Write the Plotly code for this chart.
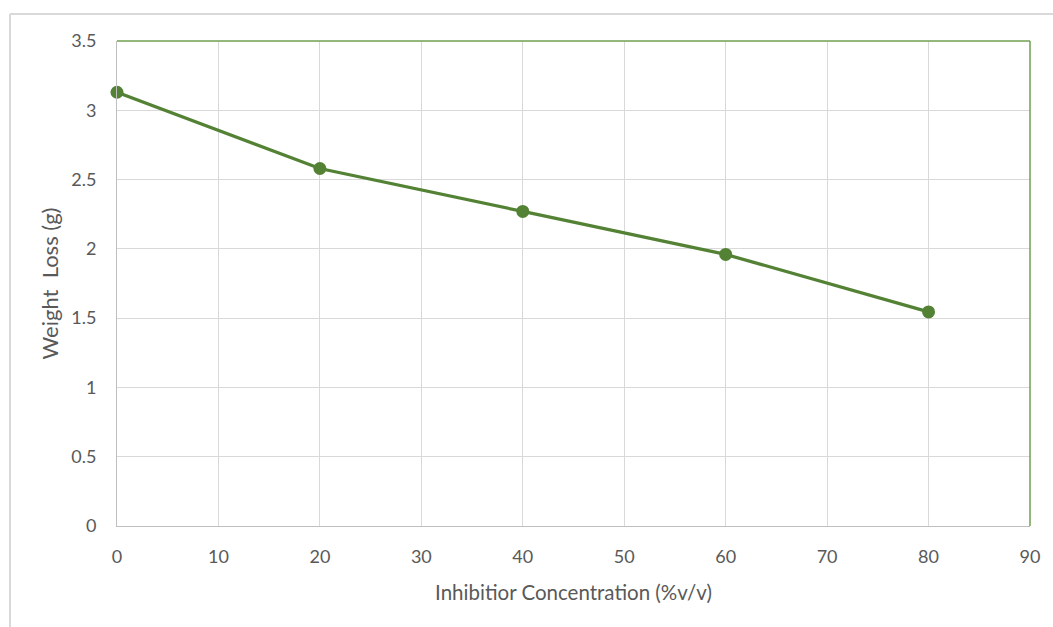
import plotly.graph_objects as go

# Weight loss vs. inhibitor concentration
concentration = [0, 20, 40, 60, 80]
weight_loss = [3.13, 2.58, 2.27, 1.96, 1.545]

x_ticks = [0, 10, 20, 30, 40, 50, 60, 70, 80, 90]
y_ticks = [0, 0.5, 1, 1.5, 2, 2.5, 3, 3.5]
y_tick_text = ["0", "0.5", "1", "1.5", "2", "2.5", "3", "3.5"]

GREEN = "#548235"
GRID = "#d9d9d9"
TEXT = "#595959"
FONT = "Lato, Carlito, 'Open Sans', sans-serif"

W, H = 1053, 627
L, R, T, B = 117, 23, 41, 101
pw, ph = W - L - R, H - T - B

fig = go.Figure()
fig.add_trace(go.Scatter(
    x=concentration, y=weight_loss, mode="lines+markers",
    line=dict(color=GREEN, width=3.2),
    marker=dict(color=GREEN, size=13),
    cliponaxis=False, showlegend=False,
))

def px_x(v):
    return (v - L) / pw

def px_y(v):
    return 1 - (v - T) / ph

fig.update_layout(
    width=W, height=H,
    margin=dict(l=L, r=R, t=T, b=B),
    paper_bgcolor="white", plot_bgcolor="white",
    font=dict(family=FONT, color=TEXT, size=18),
    xaxis=dict(
        range=[0, 90], tickvals=x_ticks, ticks="",
        showgrid=True, gridcolor=GRID, gridwidth=1,
        showline=True, linecolor="#bfbfbf", linewidth=1,
        zeroline=False, ticklabelstandoff=14,
        title=dict(text="Inhibitior Concentration (%v/v)", font=dict(size=20.5, color=TEXT), standoff=20),
    ),
    yaxis=dict(
        range=[0, 3.5], tickvals=y_ticks, ticktext=y_tick_text, ticks="",
        showgrid=True, gridcolor=GRID, gridwidth=1,
        showline=True, linecolor="#bfbfbf", linewidth=1,
        zeroline=False, ticklabelstandoff=16,
        title=dict(text="Weight  Loss (g)", font=dict(size=22, color=TEXT), standoff=6),
    ),
    shapes=[
        # green frame on top and right of the plot area
        dict(type="line", xref="paper", yref="paper", x0=0, x1=1, y0=1, y1=1,
             line=dict(color="#70a050", width=1.5)),
        dict(type="line", xref="paper", yref="paper", x0=1, x1=1, y0=0, y1=1,
             line=dict(color="#70a050", width=1.5)),
        # outer chart border
        dict(type="line", xref="paper", yref="paper", x0=px_x(10), x1=px_x(W + 5),
             y0=px_y(14), y1=px_y(14), line=dict(color=GRID, width=2)),
        dict(type="line", xref="paper", yref="paper", x0=px_x(10), x1=px_x(10),
             y0=px_y(14), y1=px_y(H + 5), line=dict(color=GRID, width=2)),
    ],
)

fig.write_html("out.html")
